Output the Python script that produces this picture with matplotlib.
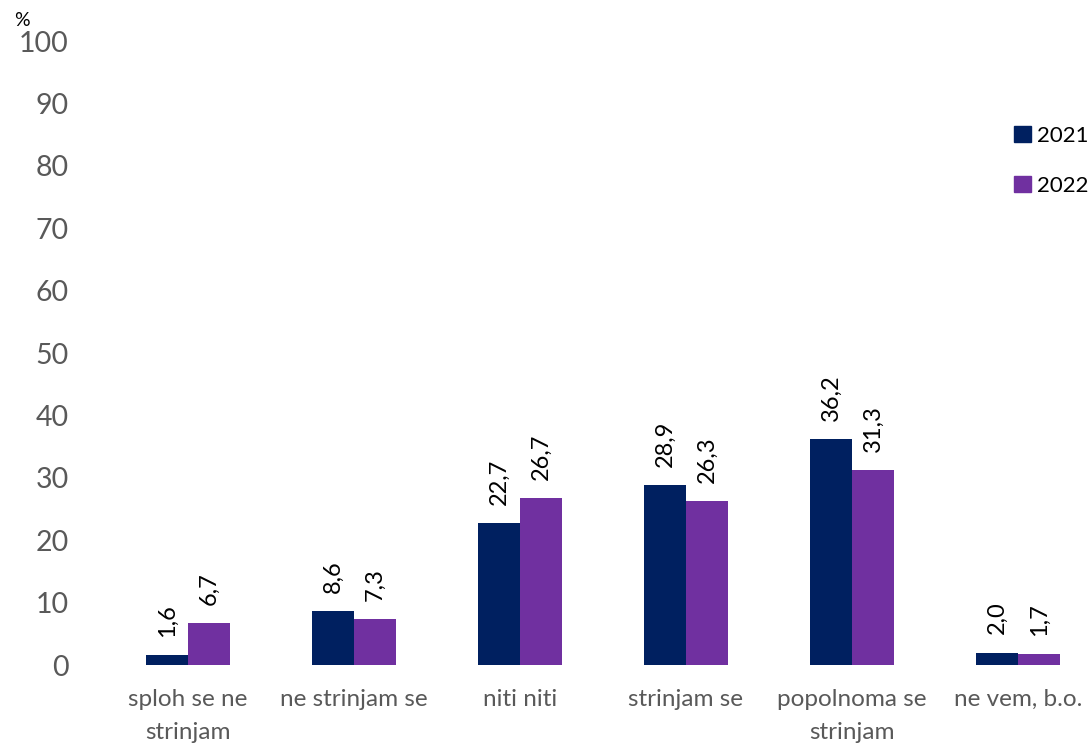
import matplotlib.pyplot as plt
import numpy as np
from matplotlib.patches import Patch

plt.rcParams['font.family'] = ['Lato', 'DejaVu Sans']

categories = ['sploh se ne\nstrinjam', 'ne strinjam se', 'niti niti',
              'strinjam se', 'popolnoma se\nstrinjam', 'ne vem, b.o.']
years = ['2021', '2022']
values_2021 = [1.6, 8.6, 22.7, 28.9, 36.2, 2.0]
values_2022 = [6.7, 7.3, 26.7, 26.3, 31.3, 1.7]
colors = ['#002060', '#7030A0']

fig = plt.figure(figsize=(10.91, 7.45), dpi=100)
ax = fig.add_axes([105 / 1091, 1 - 665 / 745, 1 - 105 / 1091, (665 - 41) / 745])

x = np.arange(len(categories))
width = 0.253

series = [values_2021, values_2022]
for i, vals in enumerate(series):
    bars = ax.bar(x + (i - 0.5) * width, vals, width, color=colors[i],
                  label=years[i])
    for rect, v in zip(bars, vals):
        ax.annotate('{:.1f}'.format(v).replace('.', ','),
                    xy=(rect.get_x() + rect.get_width() / 2, rect.get_height()),
                    xytext=(0, 13), textcoords='offset points',
                    ha='center', va='bottom', rotation=90, fontsize=17,
                    color='black')

ax.set_xlim(-0.5, (1091 - 105) / 166 - 0.5)
ax.set_ylim(0, 100)
ax.set_yticks(range(0, 101, 10))
ax.set_xticks(x)
ax.set_xticklabels(categories, fontsize=17.5, color='#595959', linespacing=1.7)
ax.tick_params(axis='y', labelsize=20.5, colors='#595959', length=0, pad=26)
ax.tick_params(axis='x', length=0, pad=17)
for s in ax.spines.values():
    s.set_visible(False)

fig.text(14 / 1091, 1 - 20 / 745, '%', fontsize=14, color='black',
         ha='left', va='center')

handles = [Patch(color=c) for c in colors]
fig.legend(handles, years, loc='upper left',
           bbox_to_anchor=(1014 / 1091, 1 - 126 / 745), frameon=False,
           fontsize=16, handlelength=0.75, handleheight=0.75, handletextpad=0.3,
           labelspacing=1.35, borderaxespad=0, borderpad=0)

plt.savefig('out.png')
